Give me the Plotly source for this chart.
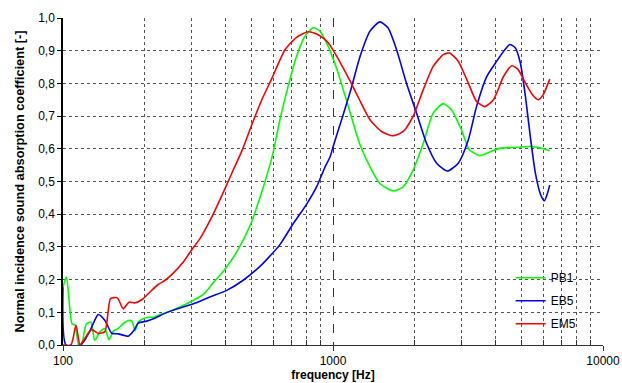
import plotly.graph_objects as go

# ---- data ----
pb1_freq = [100, 103, 108, 111, 114, 117, 122, 127, 131, 137, 143, 148, 154, 160, 167, 175, 180, 185,
            190, 198, 207, 216, 229, 249, 271, 304, 331, 360, 398, 440, 493, 536, 595, 636, 682, 733,
            787, 845, 895, 960, 1032, 1125, 1253, 1371, 1491, 1668, 1820, 1980, 2160, 2350, 2560,
            2750, 2990, 3200, 3500, 3820, 4170, 4670, 5400, 5880, 6350]
pb1_alpha = [0.177, 0.208, 0.065, 0.06, 0.004, 0.0, 0.065, 0.07, 0.014, 0.04, 0.05, 0.016, 0.044,
             0.05, 0.065, 0.075, 0.073, 0.044, 0.07, 0.08, 0.085, 0.085, 0.093, 0.103, 0.116, 0.137,
             0.155, 0.19, 0.232, 0.285, 0.365, 0.45, 0.576, 0.689, 0.791, 0.883, 0.944, 0.970, 0.96,
             0.913, 0.845, 0.745, 0.617, 0.545, 0.494, 0.471, 0.484, 0.535, 0.617, 0.709, 0.738,
             0.719, 0.658, 0.597, 0.579, 0.591, 0.602, 0.604, 0.607, 0.602, 0.594]

eb5_freq = [100, 102.6, 116, 119, 126, 135, 143, 151.5, 160, 169, 174.5, 183, 190, 204, 216, 242,
            271, 304, 350, 404, 465, 534, 569, 636, 711, 798, 870, 935, 975, 1004, 1077, 1159, 1260,
            1371, 1491, 1598, 1720, 1870, 2040, 2220, 2420, 2650, 2910, 3170, 3400, 3710, 4040,
            4330, 4520, 4730, 4940, 5160, 5380, 5620, 5880, 6060, 6200, 6350]
eb5_alpha = [0.177, 0.0, 0.0, 0.009, 0.044, 0.093, 0.075, 0.036, 0.034, 0.029, 0.027, 0.044, 0.067,
             0.073, 0.080, 0.099, 0.113, 0.126, 0.147, 0.167, 0.198, 0.239, 0.262, 0.307, 0.37,
             0.43, 0.484, 0.545, 0.575, 0.61, 0.69, 0.775, 0.883, 0.960, 0.988, 0.970, 0.903,
             0.801, 0.709, 0.617, 0.556, 0.532, 0.556, 0.627, 0.729, 0.821, 0.868, 0.903, 0.919,
             0.909, 0.863, 0.760, 0.637, 0.525, 0.459, 0.441, 0.459, 0.489]

em5_freq = [100, 107, 111.7, 115.6, 119, 127.7, 135, 143, 150, 159, 167, 175.5, 184.6, 197, 210,
            225, 239, 256, 279, 299, 322, 355, 392, 427, 459, 500, 545, 595, 664, 733, 809, 882,
            960, 1065, 1159, 1253, 1371, 1512, 1668, 1820, 1980, 2160, 2350, 2560, 2700, 2910,
            3170, 3400, 3650, 3930, 4280, 4600, 4850, 5160, 5480, 5750, 6000, 6350]
em5_alpha = [0.0, 0.0, 0.06, 0.0, 0.014, 0.047, 0.036, 0.041, 0.142, 0.144, 0.111, 0.131, 0.129,
             0.140, 0.162, 0.185, 0.198, 0.220, 0.254, 0.290, 0.326, 0.39, 0.466, 0.535, 0.592,
             0.673, 0.750, 0.817, 0.903, 0.941, 0.958, 0.949, 0.924, 0.863, 0.806, 0.750, 0.689,
             0.653, 0.640, 0.653, 0.699, 0.781, 0.852, 0.888, 0.893, 0.868, 0.801, 0.745, 0.729,
             0.750, 0.821, 0.854, 0.842, 0.801, 0.765, 0.750, 0.765, 0.813]

series_names = ["PB1", "EB5", "EM5"]
series_colors = ["#00FF00", "#0000FF", "#FF0000"]

y_tickvals = [0.0, 0.1, 0.2, 0.3, 0.4, 0.5, 0.6, 0.7, 0.8, 0.9, 1.0]
y_ticktext = ["0,0", "0,1", "0,2", "0,3", "0,4", "0,5", "0,6", "0,7", "0,8", "0,9", "1,0"]
x_tickvals = [100, 1000, 10000]
x_ticktext = ["100", "1000", "10000"]

FONT = "Liberation Sans, Arial, sans-serif"

fig = go.Figure()
for name, color, fx, fy in zip(series_names, series_colors,
                                [pb1_freq, eb5_freq, em5_freq],
                                [pb1_alpha, eb5_alpha, em5_alpha]):
    fig.add_trace(go.Scatter(x=fx, y=fy, name=name, mode="lines",
                             line=dict(color=color, width=1.6, shape="spline", smoothing=0.6),
                             legendgroup=name))

fig.update_layout(
    width=622, height=383,
    margin=dict(l=63, r=19, t=18, b=38),
    paper_bgcolor="white", plot_bgcolor="white",
    font=dict(family=FONT, size=12, color="black"),
    showlegend=True,
    legend=dict(x=0.829, y=0.25, xanchor="left", yanchor="top",
                bgcolor="rgba(0,0,0,0)", font=dict(size=12, family=FONT),
                itemwidth=30, tracegroupgap=4),
)

fig.update_xaxes(
    type="log", range=[2, 4], automargin=False,
    tickvals=x_tickvals, ticktext=x_ticktext,
    ticks="outside", ticklen=5, tickcolor="#333",
    showline=True, linecolor="#333", linewidth=1,
    showgrid=True, gridcolor="#333", griddash="dash", gridwidth=1,
    minor=dict(tickvals=[200, 300, 400, 500, 600, 700, 800, 900,
                         2000, 3000, 4000, 5000, 6000, 7000, 8000, 9000],
               ticks="inside", ticklen=5, tickcolor="#333",
               showgrid=True, gridcolor="#555", griddash="dot", gridwidth=1),
    tickfont=dict(size=12),
    title=dict(text="<b>frequency [Hz]</b>", font=dict(size=12), standoff=3),
    zeroline=False,
)

fig.update_yaxes(
    range=[0, 1], automargin=False,
    tickvals=y_tickvals, ticktext=y_ticktext,
    ticks="outside", ticklen=4, tickcolor="black",
    showline=True, linecolor="black", linewidth=1.5,
    showgrid=True, gridcolor="#555", griddash="dot", gridwidth=1,
    tickfont=dict(size=12),
    title=dict(text="<b>Normal incidence sound absorption coefficient [-]</b>",
               font=dict(size=12.8), standoff=11),
    zeroline=False,
)

# remove the browser's default 8px body margin so the 622x383 figure fills the window exactly
fig.write_html("out.html",
               config={"displayModeBar": False},
               post_script="document.body.style.margin='0';document.body.style.overflow='hidden';")
